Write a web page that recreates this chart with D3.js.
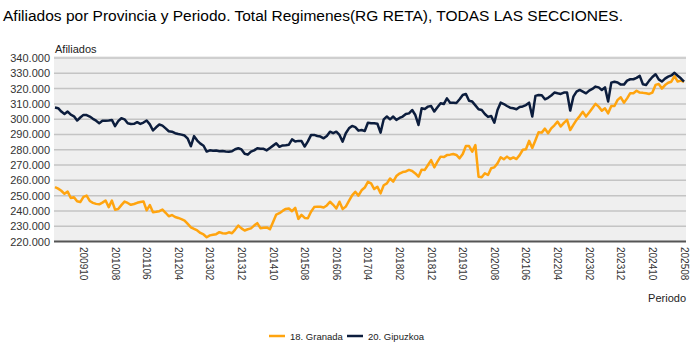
<!DOCTYPE html>
<html>
<head>
<meta charset="utf-8">
<script src="https://cdn.jsdelivr.net/npm/d3@7"></script>
<style>
  body { margin: 0; background: #fff; }
  svg { display: block; font-family: "Liberation Sans", Arial, sans-serif; }
</style>
</head>
<body>
<svg width="690" height="349"></svg>
<script>
// monthly values (thousands), Jan 2009 .. Aug 2025
const granada = [
  255.5, 254.6, 253.2, 251.2, 252.6, 248.4, 249.0, 246.3, 245.8, 249.2, 250.0, 246.5,
  245.3, 244.6, 244.3, 245.4, 246.8, 242.5, 246.7, 240.8, 241.2, 243.8, 246.1, 245.2,
  244.0, 244.5, 245.3, 245.8, 246.2, 240.4, 243.8, 239.2, 239.4, 239.8, 240.9, 238.8,
  236.5, 237.3, 236.0, 235.4, 234.6, 233.7, 231.5, 229.3, 228.2, 227.2, 225.6, 224.6,
  222.8, 224.0, 224.4, 224.8, 226.1, 225.4, 225.2, 226.0, 225.4, 227.8, 230.4, 228.6,
  227.2, 228.0, 228.6, 230.4, 232.0, 228.7, 229.0, 229.2, 228.0, 232.8, 237.6, 238.5,
  240.0, 241.3, 241.6, 239.8, 242.0, 234.8, 237.4, 235.4, 235.2, 239.5, 242.5, 242.8,
  242.7, 242.2, 243.6, 246.0, 244.0, 241.6, 246.0, 241.2, 242.8, 246.5, 250.2, 252.5,
  250.0, 253.5, 255.3, 259.0, 258.0, 254.3, 255.8, 251.5, 256.8, 258.0, 261.2, 259.2,
  262.8, 264.4, 265.4, 265.8, 266.8, 266.1, 264.5, 262.4, 267.0, 266.8, 270.0, 273.2,
  268.5, 272.2, 275.5, 275.2, 276.5, 276.8, 277.2, 276.6, 274.4, 277.2, 282.5, 282.4,
  278.8, 283.1, 262.4, 262.0, 264.6, 263.5, 267.9, 268.5, 271.1, 275.1, 273.8, 275.5,
  273.9, 275.0, 273.9, 276.5, 280.0, 280.3, 285.8, 281.2, 286.2, 291.5, 291.2, 293.8,
  290.8, 294.0, 296.0, 298.4, 295.2, 297.6, 299.5, 292.9, 296.3, 299.5, 302.0, 304.8,
  301.7, 304.3, 307.1, 310.0, 308.2, 305.5, 307.1, 303.8, 308.6, 308.6, 312.6, 314.3,
  310.8, 313.6, 317.0, 316.9, 318.6, 317.4, 317.2, 316.9, 316.5, 317.4, 322.4, 323.0,
  320.0, 322.3, 323.8, 324.5, 328.2, 324.6, 325.2, 324.5
];
const gipuzkoa = [
  307.6, 307.2, 305.0, 303.4, 305.0, 302.9, 301.9, 299.1, 301.1, 302.8, 302.7, 301.7,
  300.2, 299.0, 297.4, 298.9, 299.0, 299.2, 299.5, 295.4, 298.7, 300.6, 299.9, 297.3,
  296.9, 297.0, 298.0, 296.9, 297.8, 299.1, 296.6, 292.6, 294.7, 296.5, 295.8, 294.0,
  292.1, 291.8, 290.8, 290.3, 289.9, 289.3, 287.2, 282.3, 288.9, 286.0, 284.0, 282.6,
  278.8, 279.6, 279.3, 279.5, 279.0, 279.2, 278.9, 278.7, 279.0, 280.3, 281.0, 280.2,
  277.4, 276.8, 278.8, 279.6, 281.0, 280.6, 280.6, 279.6, 281.2, 282.7, 284.2, 281.9,
  282.8, 283.0, 283.3, 286.8, 285.4, 285.8, 285.7, 282.1, 285.5, 289.6, 289.7, 289.0,
  288.6, 287.5, 289.0, 291.8, 290.8, 291.8, 289.7, 285.3, 290.8, 294.0, 295.6, 294.8,
  292.5, 292.9, 292.3, 297.7, 297.3, 297.3, 297.0, 291.2, 299.9, 301.7, 299.9, 301.7,
  299.5, 300.8, 301.7, 303.4, 303.8, 306.0, 302.7, 296.2, 307.1, 306.7, 308.2, 308.6,
  305.0, 307.8, 310.4, 309.9, 313.6, 310.8, 310.8, 310.6, 313.0, 315.8, 316.5, 312.0,
  311.5, 309.0, 306.5, 306.0, 303.4, 301.5, 302.1, 297.7, 306.0, 310.8, 309.9, 308.6,
  307.5, 307.1, 306.5, 308.0, 308.3, 309.2, 310.8, 301.7, 315.2, 315.8, 315.6, 313.0,
  314.0, 315.5, 317.4, 316.9, 316.5, 317.4, 317.4, 305.6, 314.7, 318.0, 319.1, 318.0,
  316.9, 318.7, 319.8, 321.3, 320.8, 319.1, 320.8, 311.5, 323.9, 324.5, 324.0, 322.6,
  322.6, 325.2, 326.1, 326.1, 327.0, 328.3, 322.8, 322.4, 325.2, 327.6, 329.4, 326.0,
  324.6, 326.5, 327.8, 328.6, 330.3, 328.4, 326.7, 324.5
];
const seriesNames = ["18. Granada", "20. Gipuzkoa"];
const colors = ["#ffa40f", "#0c1d3d"];
const xTickLabels = ["200910", "201008", "201106", "201204", "201302", "201312", "201410",
  "201508", "201606", "201704", "201802", "201812", "201910", "202008", "202106",
  "202204", "202302", "202312", "202410", "202508"];
const yTicks = [220000, 230000, 240000, 250000, 260000, 270000, 280000, 290000,
  300000, 310000, 320000, 330000, 340000];

// periods YYYYMM
const periods = [];
for (let yr = 2009, m = 1; periods.length < granada.length; m++) {
  if (m > 12) { m = 1; yr++; }
  periods.push(String(yr) + String(m).padStart(2, "0"));
}

const svg = d3.select("svg");
const plotL = 54, plotR = 686, plotT = 58, plotB = 241.5;

const x = d3.scalePoint().domain(periods).range([55, 684]);
const y = d3.scaleLinear().domain([220000, 340000]).range([plotB, plotT]);
const es = d3.formatLocale({ decimal: ",", thousands: ".", grouping: [3], currency: ["", "€"] });
const fmt = es.format(",.0f");

svg.append("text")
  .attr("x", 3).attr("y", 21)
  .attr("font-size", 15.5).attr("fill", "#000")
  .text("Afiliados por Provincia y Periodo. Total Regimenes(RG RETA), TODAS LAS SECCIONES.");

svg.append("rect")
  .attr("x", plotL).attr("y", plotT - 2)
  .attr("width", plotR - plotL).attr("height", plotB - plotT + 2)
  .attr("fill", "#efefef");

// grid + y labels
svg.append("g")
  .selectAll("line")
  .data(yTicks.slice(1))
  .join("line")
  .attr("x1", plotL).attr("x2", plotR)
  .attr("y1", d => y(d)).attr("y2", d => y(d))
  .attr("stroke", "#c4c4c4").attr("stroke-width", 1.5);

svg.append("g")
  .selectAll("text")
  .data(yTicks)
  .join("text")
  .attr("x", 50).attr("y", d => y(d) + 4)
  .attr("text-anchor", "end")
  .attr("font-size", 11).attr("fill", "#333")
  .text(d => fmt(d));

svg.append("text")
  .attr("x", 55).attr("y", 53)
  .attr("font-size", 11).attr("fill", "#222")
  .text("Afiliados");

// x axis
svg.append("line")
  .attr("x1", plotL).attr("x2", plotR)
  .attr("y1", plotB).attr("y2", plotB)
  .attr("stroke", "#555").attr("stroke-width", 2);

svg.append("g")
  .selectAll("text")
  .data(xTickLabels)
  .join("text")
  .attr("transform", d => `translate(${x(d) - 3.5},247) rotate(90)`)
  .attr("font-size", 10).attr("fill", "#333")
  .text(d => d);

svg.append("text")
  .attr("x", 686).attr("y", 302)
  .attr("text-anchor", "end")
  .attr("font-size", 11).attr("fill", "#222")
  .text("Periodo");

// lines
const line = d3.line()
  .x((d, i) => x(periods[i]))
  .y(d => y(d * 1000));

[granada, gipuzkoa].forEach((s, k) => {
  svg.append("path")
    .datum(s)
    .attr("d", line)
    .attr("fill", "none")
    .attr("stroke", colors[k])
    .attr("stroke-width", 2.5)
    .attr("stroke-linejoin", "round");
});

// legend
const lg = svg.append("g")
  .selectAll("g")
  .data(seriesNames)
  .join("g")
  .attr("transform", (d, i) => `translate(${[269, 347][i]},336)`);
lg.append("line")
  .attr("x1", 0).attr("x2", 16)
  .attr("stroke", (d, i) => colors[i]).attr("stroke-width", 2.5);
lg.append("text")
  .attr("x", 21).attr("y", 3.5)
  .attr("font-size", 9.5).attr("fill", "#222")
  .text(d => d);
</script>
</body>
</html>
